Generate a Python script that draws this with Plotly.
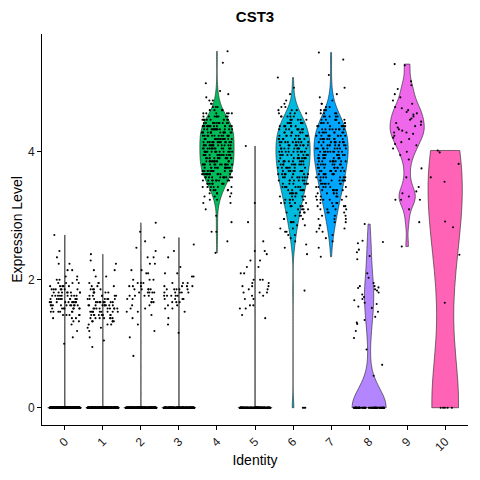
import numpy as np
import plotly.graph_objects as go

FONT = "Liberation Sans, Arial, sans-serif"

clusters = ["0", "1", "2", "3", "4", "5", "6", "7", "8", "9", "10"]
colors = ["#F8766D", "#DB8E00", "#AEA200", "#64B200", "#00BD5C", "#00C1A7",
          "#00BADE", "#00A6FF", "#B385FF", "#EF67EB", "#FF63B6"]

# expression levels and number of cells at each level, per cluster
c0_vals = [0, 1.0, 1.1, 1.2, 1.3, 1.35, 1.4, 1.45, 1.5, 1.55, 1.6, 1.65, 1.7, 1.75,
           1.8, 1.85, 1.9, 1.95, 2.0, 2.05, 2.15, 2.25, 2.35, 2.45, 2.7]
c0_counts = [600, 1, 1, 1, 1, 2, 3, 5, 6, 8, 10, 10, 10, 9, 8, 7, 5, 4, 3, 2, 2, 2, 1, 1, 1]

c1_vals = [0, 0.95, 1.05, 1.1, 1.2, 1.25, 1.3, 1.35, 1.4, 1.45, 1.5, 1.55, 1.6, 1.65,
           1.7, 1.75, 1.8, 1.85, 1.9, 1.95, 2.05, 2.15, 2.25, 2.3, 2.4]
c1_counts = [450, 1, 1, 1, 1, 2, 3, 5, 7, 8, 9, 9, 9, 8, 7, 6, 5, 4, 3, 3, 2, 2, 1, 1, 1]

c2_vals = [0, 0.81, 1.1, 1.2, 1.3, 1.4, 1.45, 1.5, 1.55, 1.6, 1.65, 1.7, 1.75, 1.8, 1.85,
           1.9, 1.95, 2.0, 2.1, 2.15, 2.25, 2.35, 2.45, 2.5, 2.6, 2.75, 2.89]
c2_counts = [400, 1, 1, 1, 1, 1, 1, 2, 2, 2, 3, 3, 4, 5, 5, 3, 3, 3, 2, 2, 2, 2, 1, 1, 1, 1, 1]

c3_vals = [0, 1.17, 1.3, 1.4, 1.5, 1.55, 1.6, 1.65, 1.7, 1.75, 1.8, 1.85, 1.9, 1.95,
           2.05, 2.1, 2.2, 2.35, 2.45, 2.55, 2.66]
c3_counts = [300, 1, 1, 1, 1, 2, 2, 3, 4, 5, 5, 5, 4, 3, 2, 2, 1, 1, 1, 1, 1]

c4_vals = [2.42, 2.6, 2.75, 2.9, 3.0, 3.1, 3.2, 3.25, 3.3, 3.35, 3.4, 3.45, 3.5, 3.55,
           3.6, 3.65, 3.7, 3.75, 3.8, 3.85, 3.9, 3.95, 4.0, 4.05, 4.1, 4.15, 4.2, 4.25,
           4.3, 4.35, 4.4, 4.45, 4.5, 4.55, 4.6, 4.65, 4.7, 4.75, 4.8, 4.85, 4.9, 4.95,
           5.07, 5.39, 5.57]
c4_counts = [1, 1, 2, 1, 1, 1, 2, 2, 3, 4, 5, 6, 8, 9, 11, 12, 13, 13, 14, 14, 14, 14,
             14, 14, 14, 14, 14, 14, 14, 14, 13, 12, 10, 8, 6, 4, 3, 2, 2, 1, 1, 1,
             1, 1, 1]

c5_vals = [0, 1.4, 1.45, 1.55, 1.6, 1.7, 1.75, 1.8, 1.85, 1.9, 1.95, 2.0, 2.1, 2.2,
           2.3, 2.4, 2.45, 2.6, 2.9, 3.2, 4.09]
c5_counts = [200, 1, 1, 2, 2, 2, 2, 3, 2, 3, 2, 3, 2, 2, 2, 1, 2, 1, 1, 1, 1]

c6_vals = [0, 1.83, 2.4, 2.5, 2.55, 2.6, 2.65, 2.7, 2.75, 2.8, 2.85, 2.9, 2.95, 3.0,
           3.05, 3.1, 3.15, 3.2, 3.25, 3.3, 3.35, 3.4, 3.45, 3.5, 3.55, 3.6, 3.65,
           3.7, 3.75, 3.8, 3.85, 3.9, 3.95, 4.0, 4.05, 4.1, 4.15, 4.2, 4.25, 4.3,
           4.35, 4.4, 4.45, 4.5, 4.55, 4.6, 4.65, 4.7, 4.75, 4.8, 4.9, 5.0, 5.16]
c6_counts = [3, 1, 1, 1, 1, 1, 1, 2, 2, 2, 2, 3, 3, 3, 4, 4, 4, 5, 5, 5, 6, 6, 7, 7,
             7, 8, 8, 8, 8, 9, 9, 9, 9, 9, 9, 9, 9, 9, 9, 8, 8, 7, 7, 6, 5, 4, 3, 2,
             1, 1, 1, 1, 1]

c7_vals = [2.36, 2.5, 2.6, 2.65, 2.7, 2.75, 2.8, 2.85, 2.9, 2.95, 3.0, 3.05, 3.1, 3.15,
           3.2, 3.25, 3.3, 3.35, 3.4, 3.45, 3.5, 3.55, 3.6, 3.65, 3.7, 3.75, 3.8,
           3.85, 3.9, 3.95, 4.0, 4.05, 4.1, 4.15, 4.2, 4.25, 4.3, 4.35, 4.4, 4.45,
           4.5, 4.55, 4.6, 4.65, 4.7, 4.75, 4.8, 4.85, 4.9, 5.0, 5.2, 5.44, 5.55]
c7_counts = [1, 1, 1, 1, 1, 2, 2, 2, 2, 3, 3, 3, 4, 4, 4, 5, 5, 5, 6, 6, 7, 7, 7, 7,
             8, 8, 8, 9, 9, 9, 9, 9, 9, 9, 9, 9, 8, 8, 7, 7, 6, 5, 4, 3, 2, 2, 1, 1,
             1, 1, 1, 1, 1]

c8_vals = [0, 0.5, 0.67, 0.91, 1.09, 1.2, 1.31, 1.33, 1.37, 1.42, 1.5, 1.56, 1.58,
           1.62, 1.64, 1.68, 1.7, 1.73, 1.77, 1.8, 1.83, 1.85, 1.87, 1.88, 1.9, 1.95,
           2.03, 2.1, 2.32, 2.37, 2.43, 2.47, 2.57, 2.59, 2.61, 2.87]
c8_counts = [70, 1, 1, 1, 1, 1, 1, 1, 1, 1, 1, 1, 1, 1, 1, 1, 1, 1, 1, 1, 1, 1, 1, 1,
             2, 1, 1, 1, 1, 1, 1, 1, 1, 1, 1, 1]

c9_vals = [2.52, 2.9, 3.1, 3.25, 3.3, 3.35, 3.38, 3.45, 3.6, 3.74, 3.88, 3.95, 4.0,
           4.05, 4.1, 4.12, 4.15, 4.2, 4.22, 4.25, 4.28, 4.3, 4.33, 4.35, 4.38, 4.4,
           4.42, 4.45, 4.47, 4.5, 4.52, 4.55, 4.58, 4.6, 4.62, 4.65, 4.68, 4.7, 4.75,
           4.8, 4.85, 4.9, 4.98, 5.04, 5.1, 5.35, 5.37]
c9_counts = [1, 1, 1, 3, 1, 1, 1, 1, 1, 1, 1, 1, 1, 1, 1, 1, 1, 1, 1, 1, 1, 2, 1, 1,
             1, 1, 1, 1, 1, 1, 1, 1, 1, 1, 1, 1, 1, 1, 1, 1, 1, 1, 1, 1, 1, 1, 1]

c10_vals = [0, 1.64, 2.39, 2.82, 2.91, 3.53, 3.6, 3.81, 3.99, 4.02]
c10_counts = [5, 1, 1, 1, 1, 1, 1, 1, 1, 1]

all_vals = [c0_vals, c1_vals, c2_vals, c3_vals, c4_vals, c5_vals,
            c6_vals, c7_vals, c8_vals, c9_vals, c10_vals]
all_counts = [c0_counts, c1_counts, c2_counts, c3_counts, c4_counts, c5_counts,
              c6_counts, c7_counts, c8_counts, c9_counts, c10_counts]

# kernel bandwidth per violin (style)
bandwidths = [0.002, 0.002, 0.002, 0.002, 0.13, 0.002, 0.14, 0.15, 0.3, 0.13, 0.85]

# horizontal jitter (display only, like geom_jitter width = 0.4)
jitter_rng = np.random.default_rng(42)

fig = go.Figure()
px_all, py_all = [], []
for k in range(len(clusters)):
    y = np.repeat(np.array(all_vals[k], dtype=float), all_counts[k])
    xpos = np.full(len(y), k, dtype=float)
    fig.add_trace(go.Violin(
        x=xpos, y=y, width=0.9, scalemode="width", spanmode="hard",
        bandwidth=bandwidths[k], points=False, fillcolor=colors[k],
        line=dict(color="#222222", width=0.6), box_visible=False,
        meanline_visible=False, showlegend=False, hoverinfo="skip"))
    off = jitter_rng.uniform(-0.4, 0.4, len(y))
    px_all.extend(list(k + off))
    py_all.extend(list(y))

fig.add_trace(go.Scatter(
    x=px_all, y=py_all, mode="markers",
    marker=dict(color="black", size=2.1, line=dict(width=0)),
    showlegend=False, hoverinfo="skip"))

axis_common = dict(showline=True, linecolor="black", linewidth=1, ticks="outside",
                   ticklen=4, tickcolor="black", tickwidth=1, showgrid=False,
                   zeroline=False, tickfont=dict(family=FONT, size=12, color="#1a1a1a"))

fig.update_layout(
    width=480, height=480,
    margin=dict(l=42, r=12, t=34, b=55, autoexpand=False),
    plot_bgcolor="white", paper_bgcolor="white",
    violinmode="overlay",
    font=dict(family=FONT),
    title=dict(text="<b>CST3</b>", x=0.5, xref="paper", xanchor="center",
               y=1 - 17 / 480, yref="container", yanchor="middle",
               font=dict(family=FONT, size=15, color="black")),
    xaxis=dict(range=[-0.6, 10.6], tickmode="array", tickvals=list(range(len(clusters))),
               ticktext=clusters, tickangle=-45,
               title=dict(text="Identity", standoff=1,
                          font=dict(family=FONT, size=14, color="black")),
               **axis_common),
    yaxis=dict(range=[-0.27, 5.84], tickmode="array", tickvals=[0, 2, 4],
               ticktext=["0", "2", "4"],
               title=dict(text="Expression Level", standoff=2,
                          font=dict(family=FONT, size=14, color="black")),
               **axis_common),
)

fig.write_html("out.html", config={"displayModeBar": False},
               post_script="document.body.style.margin='0px';")
